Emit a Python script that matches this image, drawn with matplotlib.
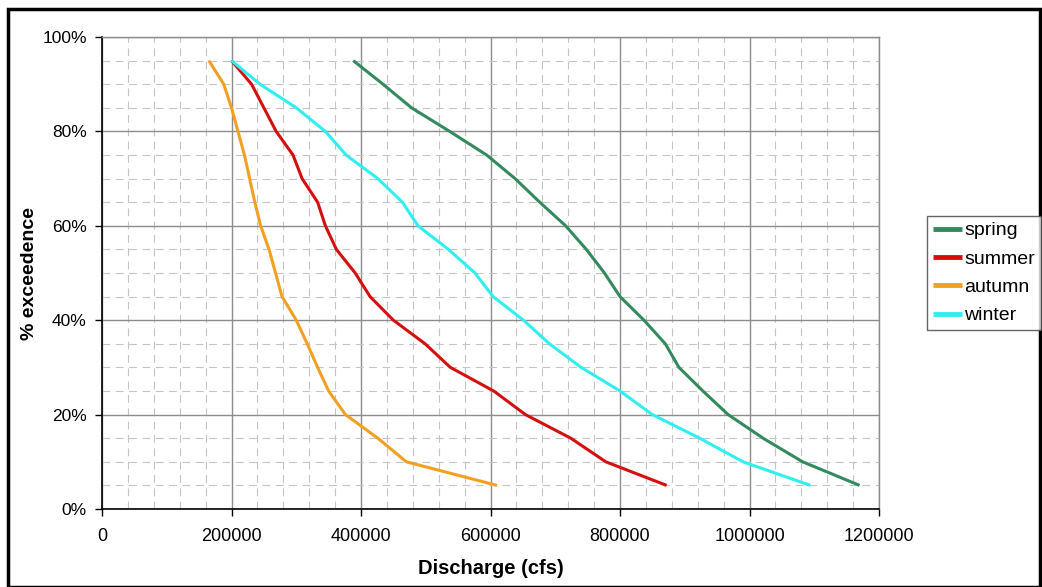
import matplotlib
matplotlib.use("Agg")
import matplotlib.pyplot as plt
from matplotlib.ticker import MultipleLocator, FuncFormatter
from matplotlib.patches import Rectangle

plt.rcParams['font.family'] = ['Liberation Sans', 'DejaVu Sans']

# % exceedence levels
exceedence = [95, 90, 85, 80, 75, 70, 65, 60, 55, 50, 45, 40, 35, 30, 25, 20, 15, 10, 5]

# discharge (cfs) for each season
spring = [388000, 434000, 478000, 537000, 594000, 638000, 676000, 716000, 748000, 776000,
          800000, 837000, 870000, 891000, 928000, 967000, 1021000, 1082000, 1170000]
summer = [200000, 231000, 250000, 269000, 295000, 309000, 333000, 345000, 362000, 391000,
          414000, 450000, 499000, 538000, 605000, 654000, 724000, 778000, 872000]
autumn = [165000, 188000, 200000, 210000, 220000, 228000, 236000, 245000, 258000, 268000,
          278000, 300000, 317000, 333000, 350000, 376000, 426000, 470000, 610000]
winter = [200000, 244000, 300000, 345000, 377000, 426000, 464000, 488000, 535000, 576000,
          604000, 651000, 691000, 740000, 800000, 850000, 923000, 990000, 1094000]

series = [("spring", spring, "#338a5e"),
          ("summer", summer, "#d40f0f"),
          ("autumn", autumn, "#f2a024"),
          ("winter", winter, "#33eeee")]

fig = plt.figure(figsize=(10.42, 5.87), dpi=100)
ax = fig.add_axes([102 / 1042, 1 - 509 / 587, (879 - 102) / 1042, (509 - 37) / 587])

for name, vals, col in series:
    ax.plot(vals, exceedence, color=col, linewidth=2.2, label=name, solid_capstyle="butt")

ax.set_xlim(0, 1200000)
ax.set_ylim(0, 100)
ax.xaxis.set_major_locator(MultipleLocator(200000))
ax.xaxis.set_minor_locator(MultipleLocator(40000))
ax.yaxis.set_major_locator(MultipleLocator(20))
ax.yaxis.set_minor_locator(MultipleLocator(5))
ax.xaxis.set_major_formatter(FuncFormatter(lambda v, p: "%d" % v))
ax.yaxis.set_major_formatter(FuncFormatter(lambda v, p: "%d%%" % v))

ax.grid(True, which="major", color="#8c8c8c", linewidth=1.0)
ax.grid(True, which="minor", color="#c4c4c4", linewidth=0.8, linestyle=(0, (7, 5)))
ax.set_axisbelow(True)

ax.tick_params(which="major", direction="out", length=5, width=1, labelsize=13, color="black")
ax.tick_params(axis="y", which="major", labelsize=12.5, pad=6)
ax.tick_params(axis="x", which="major", pad=9)
ax.tick_params(which="minor", length=0)
for s in ["left", "bottom"]:
    ax.spines[s].set_color("black")
    ax.spines[s].set_linewidth(1.2)
for s in ["top", "right"]:
    ax.spines[s].set_color("#8c8c8c")
    ax.spines[s].set_linewidth(1.0)

ax.set_xlabel("Discharge (cfs)", fontsize=14.5, fontweight="bold", labelpad=10)
ax.set_ylabel("% exceedence", fontsize=14, fontweight="bold", labelpad=3)

leg = fig.legend(loc="upper left", bbox_to_anchor=(927 / 1042, 1 - 216 / 587),
                 fontsize=14, frameon=True, fancybox=False, handlelength=1.5,
                 handletextpad=0.1, borderpad=0.3, labelspacing=0.55, borderaxespad=0)
leg.get_frame().set_edgecolor("#404040")
leg.get_frame().set_linewidth(1.0)
for line in leg.get_lines():
    line.set_linewidth(3.5)

# outer chart border
fig.patches.append(Rectangle((8 / 1042, 0), 1032 / 1042, 1 - 9 / 587, transform=fig.transFigure,
                             fill=False, edgecolor="black", linewidth=2.5))

fig.savefig("out.png", dpi=100)
